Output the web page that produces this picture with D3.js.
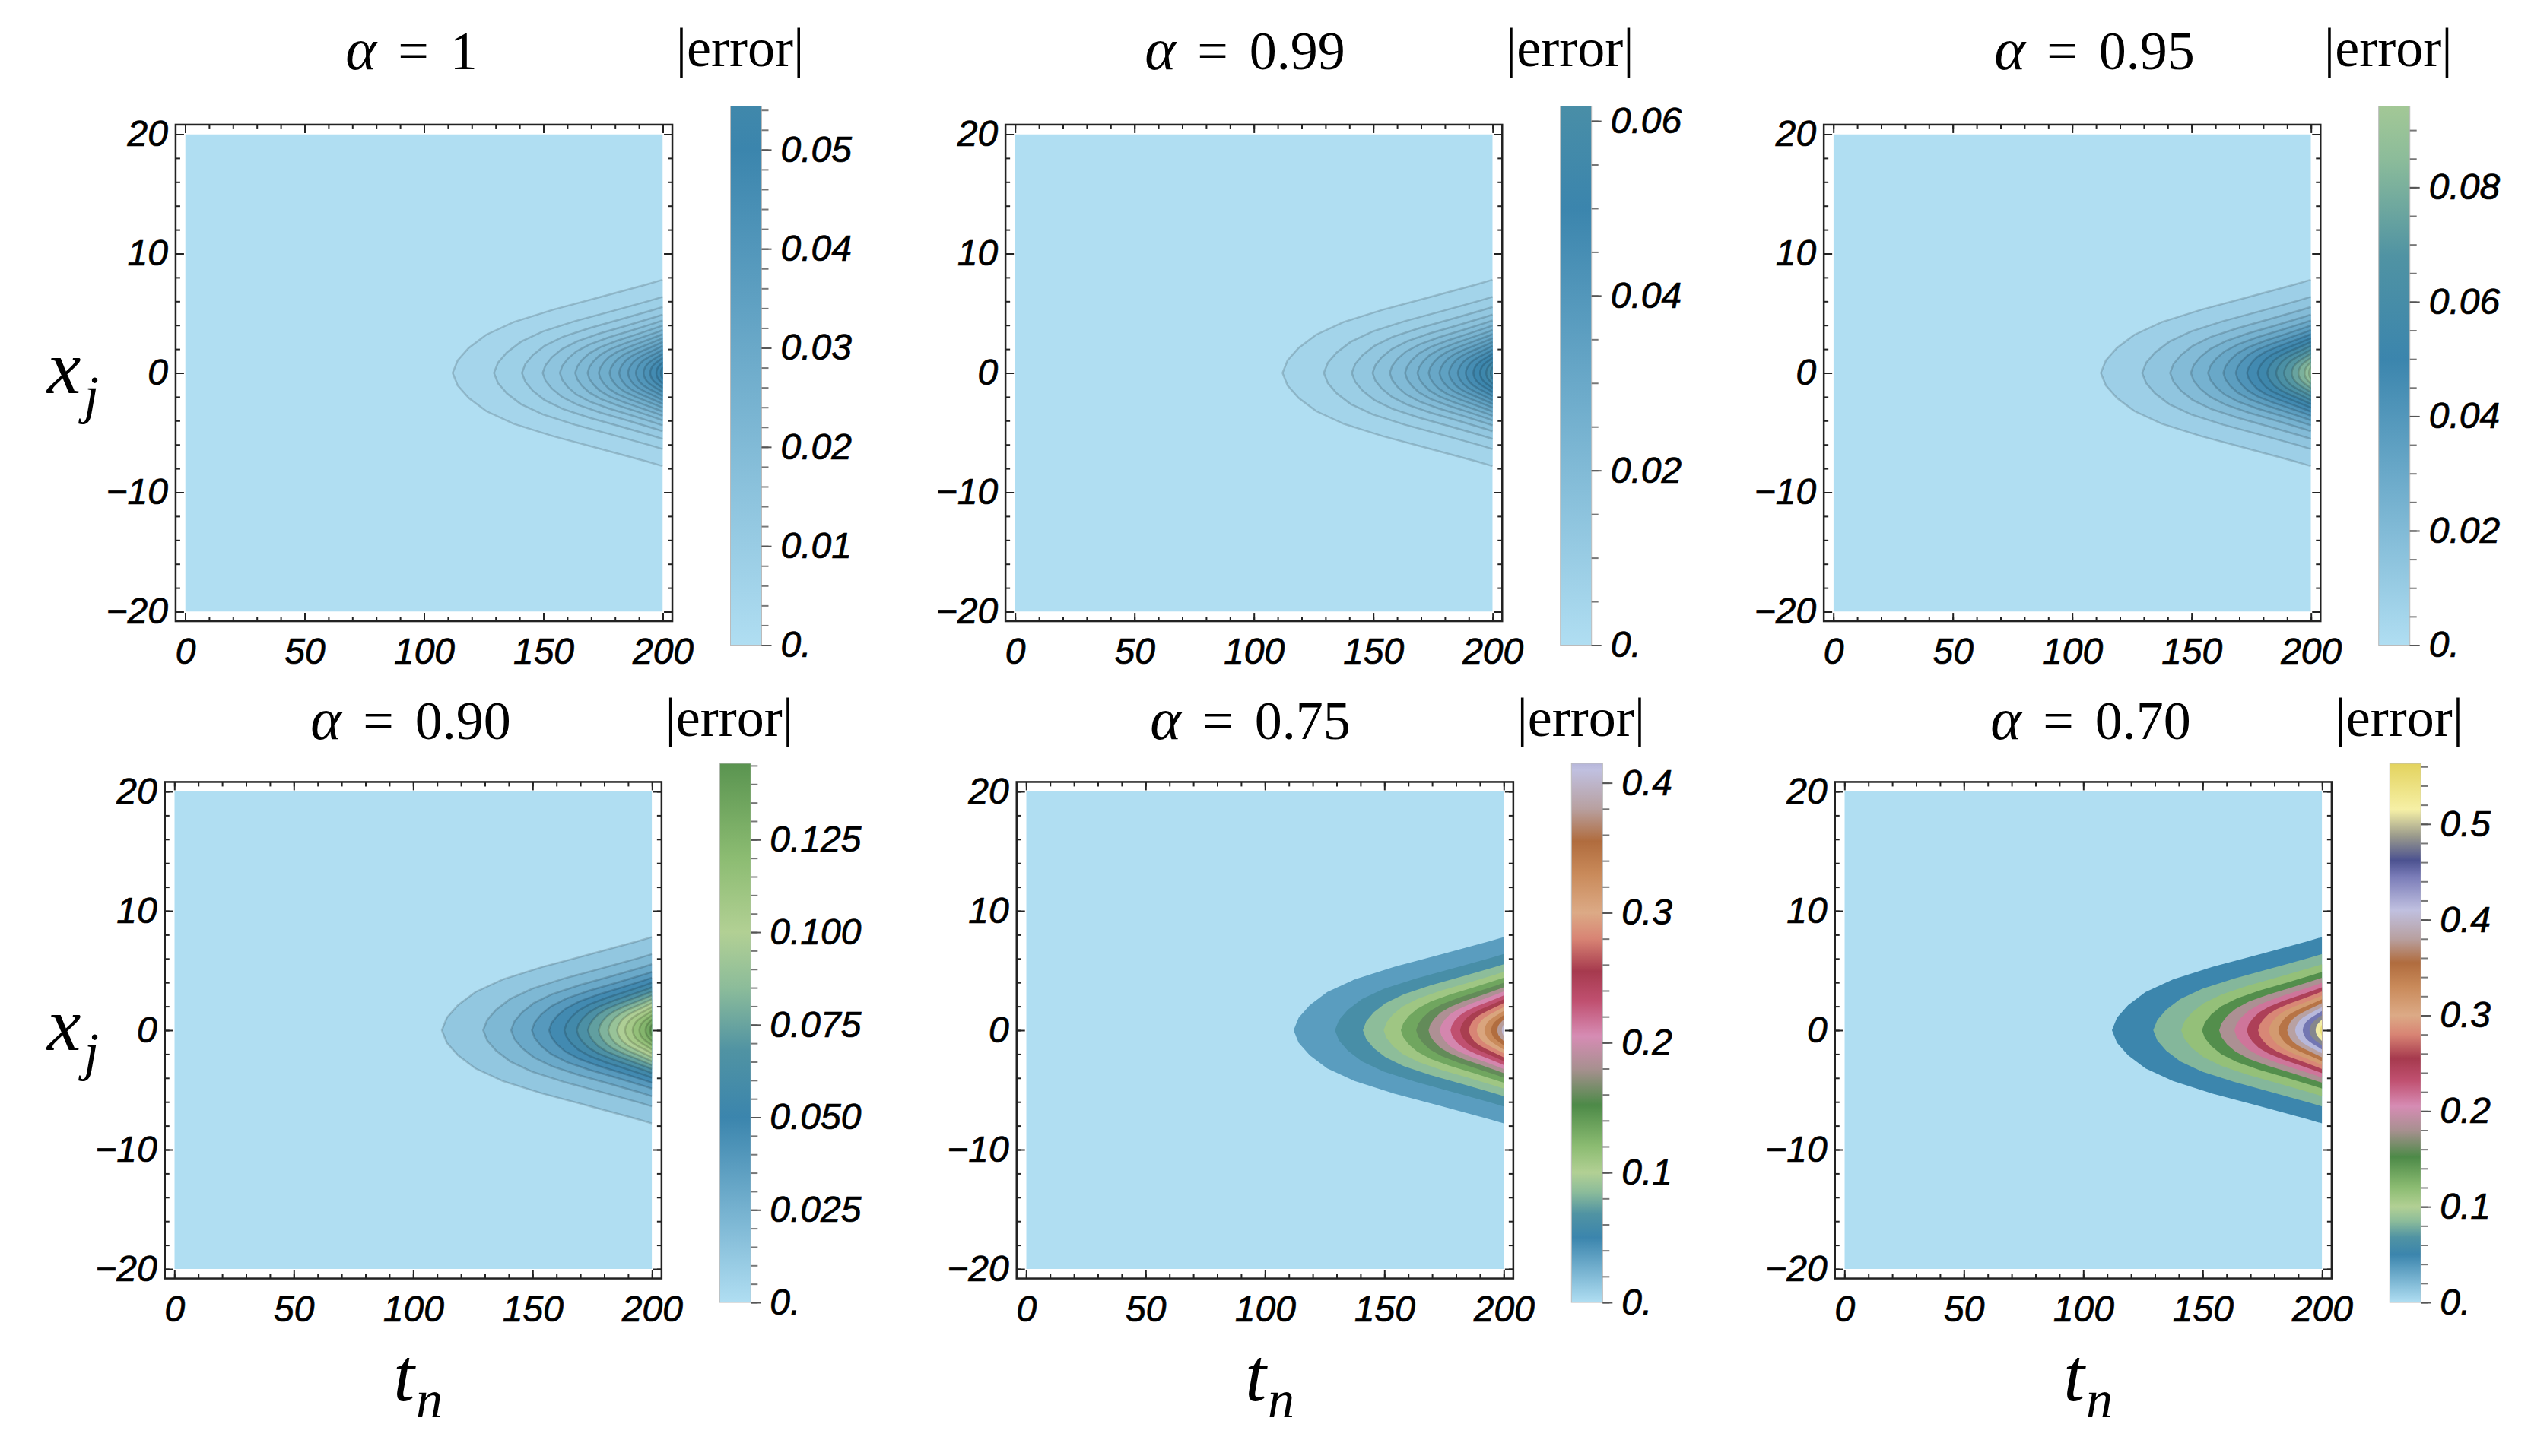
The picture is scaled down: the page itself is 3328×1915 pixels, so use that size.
<!DOCTYPE html>
<html>
<head>
<meta charset="utf-8">
<script src="https://cdn.jsdelivr.net/npm/d3@7"></script>
<style>
  body { margin: 0; background: #fff; }
  .tick text { font-family: "Liberation Sans", Arial, sans-serif; font-style: italic; stroke: #000; stroke-width: 0.7px; }
</style>
</head>
<body>
<script>
// panel values
var alphaLabels = ['1', '0.99', '0.95', '0.90', '0.75', '0.70'];
var errorMax = [0.0544, 0.0617, 0.0942, 0.1456, 0.415, 0.5634];

// colour bar ticks
var barTicks = [
  [0, 0.01, 0.02, 0.03, 0.04, 0.05],
  [0, 0.02, 0.04, 0.06],
  [0, 0.02, 0.04, 0.06, 0.08],
  [0, 0.025, 0.05, 0.075, 0.1, 0.125],
  [0, 0.1, 0.2, 0.3, 0.4],
  [0, 0.1, 0.2, 0.3, 0.4, 0.5]
];
var barTickLabels = [
  ['0.', '0.01', '0.02', '0.03', '0.04', '0.05'],
  ['0.', '0.02', '0.04', '0.06'],
  ['0.', '0.02', '0.04', '0.06', '0.08'],
  ['0.', '0.025', '0.050', '0.075', '0.100', '0.125'],
  ['0.', '0.1', '0.2', '0.3', '0.4'],
  ['0.', '0.1', '0.2', '0.3', '0.4', '0.5']
];
var barMinorStep = [0.002, 0.005, 0.005, 0.005, 0.02, 0.02];

// contour geometry (same for every panel): tip on x=0 and half width at t=200
var contourTips = [112.0, 129.3, 141.0, 149.7, 156.9, 163.3, 168.5, 173.2, 177.7, 181.7, 185.4, 188.7, 191.9, 194.7, 197.3, 199.2];
var contourWidths = [7.81, 6.38, 5.53, 4.89, 4.40, 3.98, 3.60, 3.25, 2.92, 2.60, 2.28, 1.95, 1.62, 1.28, 0.92, 0.50];
// shape of one contour, from tip (0,0) to the t=200 edge (1,1)
var profileX = [0, 0.135, 0.27, 0.41, 0.545, 0.68, 0.815, 0.95, 1];
var profileT = [0, 0.024, 0.077, 0.16, 0.29, 0.48, 0.705, 0.925, 1];

var tTicks = [0, 50, 100, 150, 200];
var xTicks = [-20, -10, 0, 10, 20];

// colour function
var colorValues = [0, 0.05, 0.068, 0.085, 0.1, 0.12, 0.152, 0.18, 0.205, 0.232, 0.255, 0.28, 0.30, 0.33, 0.355, 0.38, 0.41, 0.445, 0.462, 0.488, 0.515, 0.565];
var colorHex = ['#b0def2', '#3b85ad', '#5093a3', '#8cbc9a', '#b2d094', '#8cbc72', '#4d8a48', '#a89090', '#d68cb4', '#c05070', '#a63a4e', '#d88474', '#dcaa86', '#c98a5a', '#b06c3e', '#b8a0a0', '#c0c0e0', '#7a7cb8', '#4c5290', '#9c9c8c', '#f6f0a6', '#e2d25c'];

// layout
var W = 3328, H = 1915;
var plotSize = 628;
var pad = plotSize * 0.02;
var panelLeft = [243.5, 1334.7, 2410.7, 229.3, 1349.3, 2425.3];
var rowTop = [176.5, 1041];
var titleX = [541, 1637, 2754, 540, 1644, 2749];
var titleY = [91, 972];
var errorLabelY = [87, 968];
var showLines = [true, true, true, true, false, false];
var tMax = 200;

var svg = d3.select('body').append('svg')
  .attr('width', W)
  .attr('height', H)
  .style('display', 'block');

var colorScale = d3.scaleLinear()
  .domain(colorValues)
  .range(colorHex)
  .interpolate(d3.interpolateRgb)
  .clamp(true);

var contourCount = contourTips.length;

alphaLabels.forEach(function(a, i) {
  drawPanel(i);
});

function contourPoints(t0, w) {
  var pts = [];
  for (var j = profileX.length - 1; j >= 0; j--) {
    pts.push([t0 + profileT[j] * (tMax - t0), profileX[j] * w]);
  }
  for (var j = 1; j < profileX.length; j++) {
    pts.push([t0 + profileT[j] * (tMax - t0), -profileX[j] * w]);
  }
  return pts;
}

function drawPanel(i) {
  var row = Math.floor(i / 3);
  var left = panelLeft[i];
  var top = rowTop[row];
  var M = errorMax[i];
  var step = M / (contourCount + 1);

  var xScale = d3.scaleLinear().domain([0, tMax]).range([left, left + plotSize]);
  var yScale = d3.scaleLinear().domain([-20, 20]).range([top + plotSize, top]);

  var g = svg.append('g').attr('class', 'panel');

  g.append('rect')
    .attr('x', left - pad)
    .attr('y', top - pad)
    .attr('width', plotSize + 2 * pad)
    .attr('height', plotSize + 2 * pad)
    .attr('fill', '#fff');

  g.append('clipPath')
    .attr('id', 'clip' + i)
    .append('rect')
    .attr('x', xScale(0))
    .attr('y', yScale(20))
    .attr('width', xScale(tMax) - xScale(0))
    .attr('height', yScale(-20) - yScale(20));

  var plot = g.append('g').attr('clip-path', 'url(#clip' + i + ')');

  plot.append('rect')
    .attr('x', xScale(0))
    .attr('y', yScale(20))
    .attr('width', xScale(tMax) - xScale(0))
    .attr('height', yScale(-20) - yScale(20))
    .attr('fill', colorScale(0));

  var line = d3.line()
    .x(function(d) { return xScale(d[0]); })
    .y(function(d) { return yScale(d[1]); });

  contourTips.forEach(function(t0, k) {
    plot.append('path')
      .attr('d', line(contourPoints(t0, contourWidths[k])) + 'Z')
      .attr('fill', colorScale((k + 1.5) * step));
  });

  if (showLines[i]) {
    contourTips.forEach(function(t0, k) {
      plot.append('path')
        .attr('d', line(contourPoints(t0, contourWidths[k])))
        .attr('fill', 'none')
        .attr('stroke', '#000')
        .attr('stroke-opacity', 0.16)
        .attr('stroke-width', 2.5);
    });
  }

  // frame
  g.append('rect')
    .attr('x', left - pad)
    .attr('y', top - pad)
    .attr('width', plotSize + 2 * pad)
    .attr('height', plotSize + 2 * pad)
    .attr('fill', 'none')
    .attr('stroke', '#222')
    .attr('stroke-width', 2.5);

  var tMinor = d3.range(0, tMax + 1, 10);
  var xMinor = d3.range(-20, 21, 2);
  var majorLen = 11, minorLen = 6;

  function noDomain(sel) {
    sel.select('.domain').remove();
    sel.selectAll('.tick line').attr('stroke', '#222').attr('stroke-width', 2);
  }

  // bottom
  g.append('g')
    .attr('transform', 'translate(0,' + (top + plotSize + pad) + ')')
    .call(d3.axisBottom(xScale).tickValues(tMinor).tickSize(-minorLen).tickFormat(''))
    .call(noDomain);
  g.append('g')
    .attr('transform', 'translate(0,' + (top + plotSize + pad) + ')')
    .call(d3.axisBottom(xScale).tickValues(tTicks).tickSize(-majorLen).tickPadding(22))
    .call(noDomain)
    .selectAll('text').attr('font-size', 48).attr('fill', '#000');
  // top
  g.append('g')
    .attr('transform', 'translate(0,' + (top - pad) + ')')
    .call(d3.axisTop(xScale).tickValues(tMinor).tickSize(-minorLen).tickFormat(''))
    .call(noDomain);
  g.append('g')
    .attr('transform', 'translate(0,' + (top - pad) + ')')
    .call(d3.axisTop(xScale).tickValues(tTicks).tickSize(-majorLen).tickFormat(''))
    .call(noDomain);
  // left
  g.append('g')
    .attr('transform', 'translate(' + (left - pad) + ',0)')
    .call(d3.axisLeft(yScale).tickValues(xMinor).tickSize(-minorLen).tickFormat(''))
    .call(noDomain);
  g.append('g')
    .attr('transform', 'translate(' + (left - pad) + ',0)')
    .call(d3.axisLeft(yScale).tickValues(xTicks).tickSize(-majorLen).tickPadding(10))
    .call(noDomain)
    .selectAll('text').attr('font-size', 48).attr('fill', '#000');
  // right
  g.append('g')
    .attr('transform', 'translate(' + (left + plotSize + pad) + ',0)')
    .call(d3.axisRight(yScale).tickValues(xMinor).tickSize(-minorLen).tickFormat(''))
    .call(noDomain);
  g.append('g')
    .attr('transform', 'translate(' + (left + plotSize + pad) + ',0)')
    .call(d3.axisRight(yScale).tickValues(xTicks).tickSize(-majorLen).tickFormat(''))
    .call(noDomain);

  // title
  var title = g.append('text')
    .attr('x', titleX[i])
    .attr('y', titleY[row])
    .attr('text-anchor', 'middle')
    .attr('font-family', '"Liberation Serif", "Times New Roman", serif')
    .attr('font-size', 72)
    .attr('fill', '#000');
  title.append('tspan').attr('font-style', 'italic').attr('font-size', 78).text('α');
  title.append('tspan').attr('dx', 28).text('=');
  title.append('tspan').attr('dx', 28).text(alphaLabels[i]);

  drawBar(i, g, left + plotSize + 89, top, errorLabelY[row]);

  // axis labels
  if (i % 3 === 0) {
    var xl = g.append('text')
      .attr('x', 62)
      .attr('y', yScale(0) + 26)
      .attr('font-family', '"Liberation Serif", "Times New Roman", serif')
      .attr('font-style', 'italic')
      .attr('font-size', 100)
      .attr('fill', '#000');
    xl.append('tspan').text('x');
    xl.append('tspan').attr('font-size', 70).attr('dx', 4).attr('dy', 26).text('j');
  }
  if (row === 1) {
    var tl = g.append('text')
      .attr('x', xScale(tMax / 2) - 26)
      .attr('y', 1842)
      .attr('font-family', '"Liberation Serif", "Times New Roman", serif')
      .attr('font-style', 'italic')
      .attr('font-size', 100)
      .attr('fill', '#000');
    tl.append('tspan').text('t');
    tl.append('tspan').attr('font-size', 70).attr('dx', 2).attr('dy', 22).text('n');
  }
}

function drawBar(i, g, barLeft, top, labelY) {
  var M = errorMax[i];
  var barW = 41;
  var barTop = top - 37;
  var barBottom = top + plotSize + 44;
  var barScale = d3.scaleLinear().domain([0, M]).range([barBottom, barTop]);

  var grad = svg.append('defs').append('linearGradient')
    .attr('id', 'grad' + i)
    .attr('x1', 0).attr('y1', 1).attr('x2', 0).attr('y2', 0);
  var stops = colorValues.filter(function(v) { return v < M; }).concat([M]);
  grad.selectAll('stop')
    .data(stops)
    .enter().append('stop')
    .attr('offset', function(v) { return v / M; })
    .attr('stop-color', function(v) { return colorScale(v); });

  g.append('rect')
    .attr('x', barLeft)
    .attr('y', barTop)
    .attr('width', barW)
    .attr('height', barBottom - barTop)
    .attr('fill', 'url(#grad' + i + ')')
    .attr('stroke', '#bbb')
    .attr('stroke-width', 1);

  var minor = d3.range(0, M, barMinorStep[i]);
  var axisX = barLeft + barW;
  g.append('g')
    .attr('transform', 'translate(' + axisX + ',0)')
    .call(d3.axisRight(barScale).tickValues(minor).tickSize(9).tickFormat(''))
    .call(function(sel) {
      sel.select('.domain').remove();
      sel.selectAll('.tick line').attr('stroke', '#777').attr('stroke-width', 2);
    });
  g.append('g')
    .attr('transform', 'translate(' + axisX + ',0)')
    .call(d3.axisRight(barScale).tickValues(barTicks[i]).tickSize(13).tickPadding(12)
      .tickFormat(function(d, k) { return barTickLabels[i][k]; }))
    .call(function(sel) {
      sel.select('.domain').remove();
      sel.selectAll('.tick line').attr('stroke', '#555').attr('stroke-width', 2);
      sel.selectAll('text').attr('font-size', 48).attr('fill', '#000');
    });

  g.append('text')
    .attr('x', barLeft + barW / 2 - 8)
    .attr('y', labelY)
    .attr('text-anchor', 'middle')
    .attr('font-family', '"Liberation Serif", "Times New Roman", serif')
    .attr('font-size', 72)
    .attr('fill', '#000')
    .text('|error|');
}
</script>
</body>
</html>
